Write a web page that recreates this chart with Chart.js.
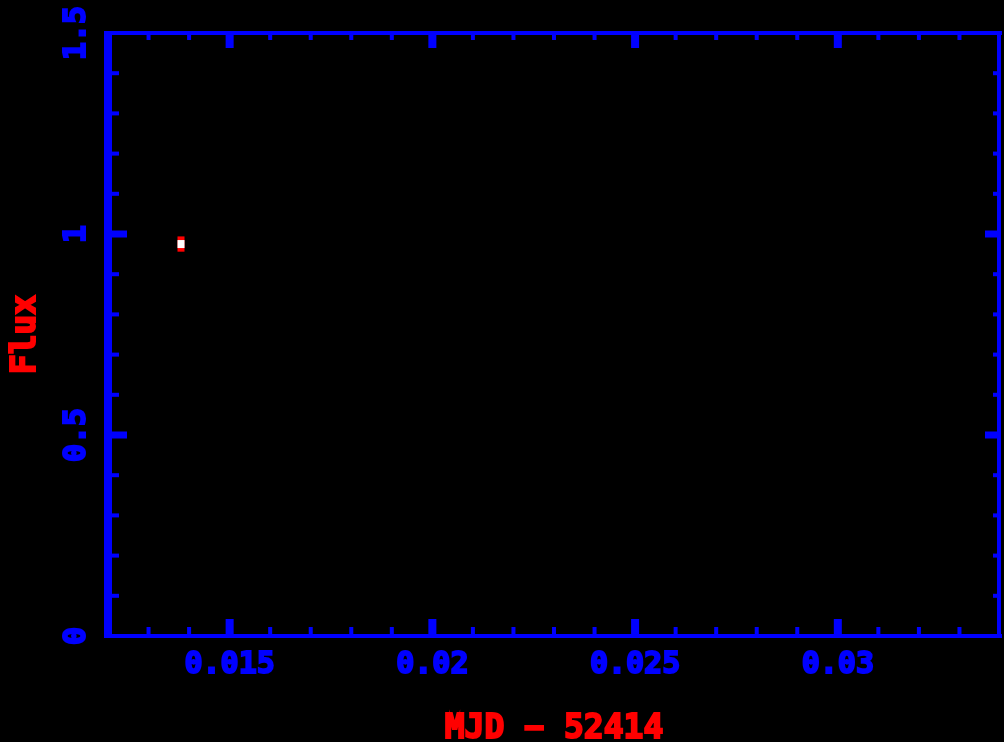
<!DOCTYPE html>
<html><head><meta charset="utf-8">
<script src="https://cdn.jsdelivr.net/npm/chart.js@4.4.1/dist/chart.umd.min.js"></script>
<style>html,body{margin:0;padding:0;background:#000;overflow:hidden}#wrap{width:1004px;height:742px;position:relative}</style>
</head><body><div id="wrap"><canvas id="c" width="1004" height="742"></canvas></div>
<script>
// ---- data ----
const xValues = [0.01379];
const yValues = [0.975];
const yErrors = [0.019];
const xTickLabels = ['0.015', '0.02', '0.025', '0.03'];
const yTickLabels = ['0', '0.5', '1', '1.5'];
const xRange = [0.012, 0.034];
const yRange = [0, 1.5];
const xTitle = 'MJD \u2212 52414';
const yTitle = 'Flux';

const BLUE = '#0000ff', RED = '#ff0000';
const FONT = 'DejaVu Sans Mono';

const fmtX = v => String(+v.toFixed(4));
const fmtY = v => String(+v.toFixed(2));

const framePlugin = {
  id: 'frame',
  beforeDraw(chart) {
    const ctx = chart.ctx;
    ctx.save(); ctx.fillStyle = '#000'; ctx.fillRect(0, 0, chart.width, chart.height); ctx.restore();
  },
  afterDatasetsDraw(chart) {
    const ctx = chart.ctx, xs = chart.scales.x, ys = chart.scales.y;
    ctx.save();
    xValues.forEach((xv, i) => {
      const px = Math.round(xs.getPixelForValue(xv));
      const pHi = ys.getPixelForValue(yValues[i] + yErrors[i]);
      const pLo = ys.getPixelForValue(yValues[i] - yErrors[i]);
      const py = ys.getPixelForValue(yValues[i]);
      ctx.fillStyle = RED;
      ctx.fillRect(px - 3.5, pHi, 7, pLo - pHi);
      ctx.fillStyle = '#ffffff';
      ctx.fillRect(px - 3.5, py - 4, 7, 8);
    });
    ctx.restore();
  },
  afterDraw(chart) {
    const ctx = chart.ctx, a = chart.chartArea, xs = chart.scales.x, ys = chart.scales.y;
    ctx.save();
    ctx.fillStyle = BLUE;
    // frame
    ctx.fillRect(a.left - 4, a.top - 2, a.right - a.left + 6, 4);      // top
    ctx.fillRect(a.left - 4, a.bottom - 2, a.right - a.left + 6, 4);   // bottom
    ctx.fillRect(a.left - 4, a.top - 2, 8, a.bottom - a.top + 4);      // left
    ctx.fillRect(a.right - 3, a.top - 2, 4, a.bottom - a.top + 4);     // right
    // x ticks
    xs.ticks.forEach(t => {
      const px = xs.getPixelForValue(t.value);
      if (px <= a.left + 2 || px >= a.right - 2) return;
      const major = xTickLabels.includes(fmtX(t.value));
      const w = major ? 8 : 4, len = major ? 17 : 9;
      ctx.fillRect(px - w / 2, a.bottom - len, w, len);
      ctx.fillRect(px - w / 2, a.top, w, len - 2);
    });
    // y ticks
    ys.ticks.forEach(t => {
      const py = ys.getPixelForValue(t.value);
      if (py <= a.top + 2 || py >= a.bottom - 2) return;
      const major = yTickLabels.includes(fmtY(t.value));
      const w = major ? 7 : 4, len = major ? 19 : 11;
      ctx.fillRect(a.left, py - w / 2, len, w);
      ctx.fillRect(a.right - len + 4, py - w / 2, len - 4, w);
    });
    // y tick labels (rotated)
    ctx.fillStyle = BLUE;
    ctx.strokeStyle = BLUE;
    ctx.lineWidth = 2;
    ctx.lineJoin = 'miter';
    ctx.font = 'bold 30px "' + FONT + '"';
    ctx.textAlign = 'center';
    ctx.textBaseline = 'middle';
    ys.ticks.forEach(t => {
      const s = fmtY(t.value);
      if (!yTickLabels.includes(s)) return;
      const py = ys.getPixelForValue(t.value);
      ctx.save();
      ctx.translate(77, py);
      ctx.rotate(-Math.PI / 2);
      ctx.fillText(s, 0, 0);
      ctx.strokeText(s, 0, 0);
      ctx.restore();
    });
    // axis titles
    ctx.fillStyle = RED;
    ctx.strokeStyle = RED;
    ctx.font = 'bold 33px "' + FONT + '"';
    const cx = (a.left + a.right) / 2, cy = (a.top + a.bottom) / 2;
    ctx.fillText(xTitle, cx, 729);
    ctx.strokeText(xTitle, cx, 729);
    ctx.save();
    ctx.translate(26, cy);
    ctx.rotate(-Math.PI / 2);
    ctx.fillText(yTitle, 0, 0);
    ctx.strokeText(yTitle, 0, 0);
    ctx.restore();
    ctx.restore();
  }
};

new Chart(document.getElementById('c'), {
  type: 'scatter',
  data: {
    datasets: [{
      data: xValues.map((x, i) => ({ x: x, y: yValues[i] })),
      pointRadius: 0,
      showLine: false
    }]
  },
  options: {
    responsive: false,
    animation: false,
    devicePixelRatio: 1,
    layout: { padding: { top: 33, right: 4, bottom: 0, left: 0 } },
    plugins: { legend: { display: false }, tooltip: { enabled: false } },
    scales: {
      x: {
        type: 'linear', min: xRange[0], max: xRange[1],
        grid: { display: false, drawTicks: false, tickLength: 0 },
        border: { display: false },
        ticks: {
          stepSize: 0.001, autoSkip: false, minRotation: 0, maxRotation: 0,
          color: BLUE, padding: 11,
          textStrokeColor: BLUE, textStrokeWidth: 2,
          font: { family: FONT, size: 30, weight: 'bold' },
          callback: v => { const s = fmtX(v); return xTickLabels.includes(s) ? s : ''; }
        },
        title: { display: false, text: xTitle },
        afterFit: s => { s.height = 106; s.paddingLeft = 0; s.paddingRight = 0; }
      },
      y: {
        type: 'linear', min: yRange[0], max: yRange[1],
        grid: { display: false, drawTicks: false, tickLength: 0 },
        border: { display: false },
        ticks: { stepSize: 0.1, display: false, autoSkip: false },
        title: { display: false, text: yTitle },
        afterFit: s => { s.width = 108; s.paddingTop = 0; s.paddingBottom = 0; }
      }
    }
  },
  plugins: [framePlugin]
});
</script>
</body></html>
